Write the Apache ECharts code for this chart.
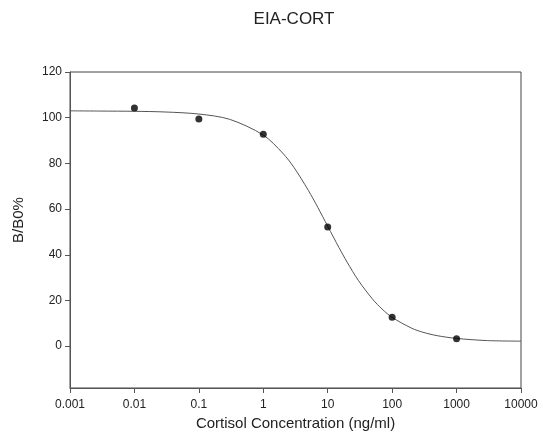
<!DOCTYPE html>
<html>
<head>
<meta charset="utf-8">
<script src="https://cdn.jsdelivr.net/npm/echarts@6/dist/echarts.min.js"></script>
<style>html,body{margin:0;padding:0;background:#fff}#c{width:539px;height:440px}</style>
</head>
<body>
<div id="c"></div>
<script>
var title = 'EIA-CORT';
var xName = 'Cortisol Concentration (ng/ml)';
var yName = 'B/B0%';
var concentrations = [0.01, 0.1, 1, 10, 100, 1000];
var bb0Values = [104.2, 99.4, 92.8, 52.2, 12.7, 3.2];
var curveX = [0.001, 0.003, 0.01, 0.03, 0.1, 0.3, 1, 2, 3, 5, 7, 10, 15, 20, 30, 50, 70, 100, 200, 300, 500, 1000, 3000, 10000];
var curveY = [103.0, 102.9, 102.8, 102.5, 101.6, 99.3, 92.4, 84.5, 78.2, 68.2, 60.8, 52.5, 43.1, 36.8, 28.7, 20.5, 16.2, 12.6, 7.9, 6.1, 4.6, 3.4, 2.45, 2.2];
var xTickLabels = ['0.001', '0.01', '0.1', '1', '10', '100', '1000', '10000'];
var yTickValues = [0, 20, 40, 60, 80, 100, 120];

var font = 'Liberation Sans, Arial, sans-serif';
var chart = echarts.init(document.getElementById('c'));
chart.setOption({
  animation: false,
  backgroundColor: '#fff',
  title: {
    text: title, left: 289, top: 6, textAlign: 'center',
    textStyle: { fontFamily: font, fontSize: 17, fontWeight: 'normal', color: '#222' }
  },
  grid: { left: 70, right: 18, top: 72, bottom: 52, outerBoundsMode: 'none', containLabel: false, show: true, borderColor: '#444', borderWidth: 1, backgroundColor: 'transparent' },
  xAxis: {
    type: 'log', logBase: 10, min: 0.001, max: 10000,
    name: xName, nameLocation: 'middle', nameGap: 24,
    nameTextStyle: { fontFamily: font, fontSize: 15, color: '#222' },
    axisLine: { show: true, onZero: false, lineStyle: { color: '#555', width: 1 } },
    axisTick: { show: true, inside: false, length: 5, lineStyle: { color: '#555' } },
    splitLine: { show: false },
    minorTick: { show: false },
    axisLabel: {
      fontFamily: font, fontSize: 12, color: '#222', margin: 11,
      formatter: function (v) { var i = Math.round(Math.log10(v)) + 3; return xTickLabels[i] || ''; }
    }
  },
  yAxis: {
    type: 'value', min: -18.3, max: 120,
    name: yName, nameLocation: 'middle', nameGap: 44, nameRotate: 90,
    nameTextStyle: { fontFamily: font, fontSize: 15, color: '#222', padding: [0, 0, 0, 20] },
    axisLine: { show: true, onZero: false, lineStyle: { color: '#555', width: 1 } },
    axisTick: { show: true, inside: false, length: 5, lineStyle: { color: '#555' }, customValues: yTickValues },
    splitLine: { show: false },
    axisLabel: { fontFamily: font, fontSize: 12, color: '#222', margin: 8, customValues: yTickValues }
  },
  series: [
    {
      type: 'line', data: curveX.map(function (x, i) { return [x, curveY[i]]; }),
      smooth: 0.3, showSymbol: false, symbol: 'none',
      lineStyle: { color: '#555', width: 1 }, z: 2
    },
    {
      type: 'scatter', data: concentrations.map(function (x, i) { return [x, bb0Values[i]]; }),
      symbol: 'circle', symbolSize: 7, itemStyle: { color: '#000' }, z: 3
    }
  ]
});
</script>
</body>
</html>
